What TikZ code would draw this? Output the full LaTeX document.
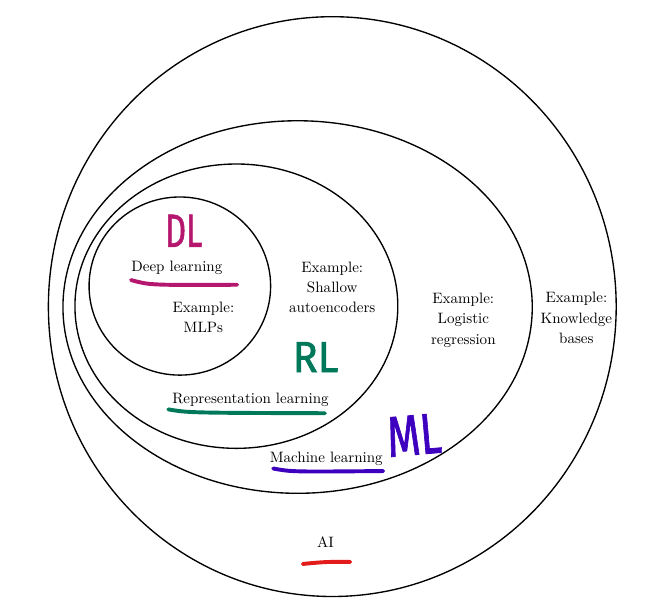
\documentclass[tikz,border=0pt]{standalone}
\usepackage{fontspec}
\usepackage{tikz}
\usetikzlibrary{positioning,calc}

\newfontfamily\handfont[FakeBold=1.5]{Fira Sans}
\definecolor{dlpink}{HTML}{B5176E}
\definecolor{rlgreen}{HTML}{00795A}
\definecolor{mlpurple}{HTML}{3D00BF}
\definecolor{aired}{HTML}{E21B1B}

\begin{document}
\begin{tikzpicture}[
  set/.style={draw, line width=0.9pt},
  lbl/.style={align=center, font=\fontsize{10}{13.6}\selectfont},
  hand/.style={inner sep=0pt},
  ink/.style={line width=2.6pt, line cap=round}
]

\useasboundingbox (0,0) rectangle (15.60,14.13);

% nested sets
\draw[set] (7.76,6.97) ellipse [x radius=6.63, y radius=6.77];
\draw[set] (6.95,6.96) ellipse [x radius=5.48, y radius=4.35];
\draw[set] (5.52,6.98) ellipse [x radius=3.77, y radius=3.32];
\draw[set] (4.20,7.45) ellipse [x radius=2.12, y radius=2.08];

% set names
\node[lbl, anchor=base] (dl) at (4.13,7.78) {Deep learning};
\node[lbl, anchor=base] (rl) at (5.85,4.71) {Representation learning};
\node[lbl, anchor=base] (ml) at (7.62,3.32) {Machine learning};
\node[lbl, anchor=base] (ai) at (7.60,1.34) {AI};

% examples
\node[lbl] (mlps) at (4.75,6.72) {Example:\\MLPs};
\node[lbl] (shallow) at (7.76,7.42) {Example:\\Shallow\\autoencoders};
\node[lbl] (logreg) at (10.82,6.66) {Example:\\Logistic\\regression};
\node[lbl] (kbases) at (13.46,6.70) {Example:\\Knowledge\\bases};

% handwritten tags
\node[hand, dlpink, font=\handfont\fontsize{31}{31}\selectfont] (dltag) at (4.29,8.74) {\scalebox{0.7}[1]{DL}};
\node[hand, rlgreen, font=\handfont\fontsize{29}{29}\selectfont] (rltag) at (7.37,5.79) {\scalebox{0.95}[1]{RL}};
\node[hand, mlpurple, font=\handfont\fontsize{38}{38}\selectfont, rotate=5] (mltag) at (9.67,3.97) {\scalebox{0.74}[1]{ML}};

% underlines
\draw[ink, dlpink] (3.06,7.59) .. controls (3.50,7.47) .. (5.54,7.48);
\draw[ink, rlgreen] (3.93,4.57) .. controls (4.40,4.49) .. (7.59,4.48);
\draw[ink, mlpurple] (6.38,3.19) .. controls (6.80,3.11) .. (8.95,3.13);
\draw[ink, aired] (7.07,0.96) .. controls (7.60,1.01) .. (8.18,1.01);

\end{tikzpicture}
\end{document}
